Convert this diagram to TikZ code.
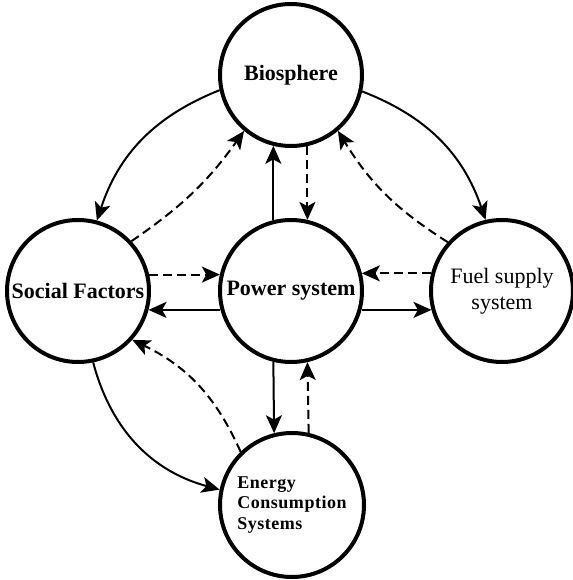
\documentclass[tikz,border=0pt]{standalone}
\usepackage{fontspec}
\setmainfont{Liberation Serif}
\usetikzlibrary{arrows.meta}

\begin{document}
\begin{tikzpicture}[x=0.5pt, y=0.5pt, >={Stealth[length=9pt, width=8pt, inset=2.2pt]},
    sys/.style={circle, draw, line width=2pt, minimum size=71pt, inner sep=0pt},
    flow/.style={->, line width=1pt},
    feedback/.style={->, line width=1pt, dash pattern=on 4.5pt off 2.5pt}]
        \useasboundingbox (0, 0) rectangle (573, 580);
        % the five sub-systems
        \node[sys, font=\bfseries\fontsize{11}{13}\selectfont] (bio) at (291, 505) {Biosphere};
        \node[sys, font=\bfseries\fontsize{11}{13}\selectfont] (power) at (291, 289) {Power system};
        \node[sys, font=\bfseries\fontsize{11}{13}\selectfont] (social) at (78, 289) {Social Factors};
        \node[sys, font=\fontsize{11}{13}\selectfont, align=center] (fuel) at (502, 289)
        {Fuel supply\\system};
        \node[sys, minimum size=72pt, align=left,
        font=\bfseries\fontsize{9}{10.4}\selectfont\addfontfeature{LetterSpace=3}]
        (energy) at (292, 75) {Energy\\Consumption\\Systems};
        % straight links around the power system
        \draw[flow] (power.104) -- (bio.256);
        \draw[feedback] (bio.283) -- (power.77);
        \draw[flow] (power.256) -- (energy.104);
        \draw[feedback] (energy.77) -- (power.283);
        \draw[feedback] (social.13) -- (power.167);
        \draw[flow] (power.195.5) -- (social.-15.5);
        \draw[feedback] (fuel.166) -- (power.14);
        \draw[flow] (power.-15.5) -- (fuel.195.5);
        % curved links on the outside
        \draw[flow] (bio.192) to[bend right=25] (social.75);
        \draw[feedback] (social.43) to[bend right=10] (bio.230);
        \draw[flow] (bio.-13) to[bend left=25] (fuel.103);
        \draw[feedback] (fuel.138) to[bend left=13] (bio.-50);
        \draw[flow] (social.-78) to[bend right=30] (energy.168);
        \draw[feedback] (energy.134) to[bend right=20] (social.-42);
      \end{tikzpicture}
\end{document}
